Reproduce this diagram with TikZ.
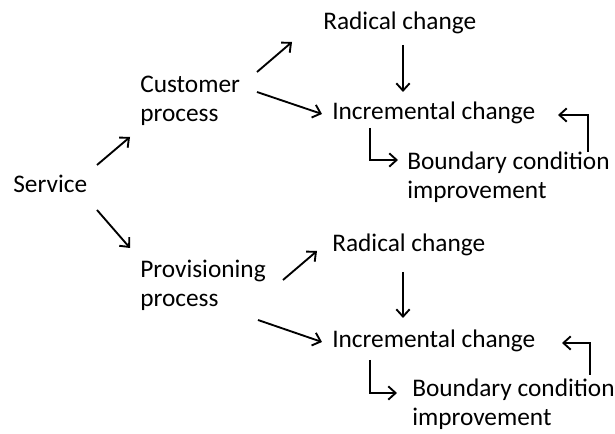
\documentclass[tikz,border=0pt]{standalone}
\usepackage{fontspec}
\setmainfont{Carlito}
\usetikzlibrary{arrows.meta}

\begin{document}
\begin{tikzpicture}[x=0.75pt,y=-0.75pt,
    txt/.style={anchor=base west,inner sep=0pt,align=left,
        font=\fontsize{19}{21.75}\selectfont},
    arr/.style={line width=1.4pt,-{Straight Barb[length=5.5pt,width=10pt,line width=1.4pt]}}]
    \useasboundingbox (0,0) rectangle (615,434);
    % labels (two-line labels sit on their last line)
    \node[txt] (service) at (13,193)  {Service};
    \node[txt] (cust)    at (140,122) {Customer\\process};
    \node[txt] (prov)    at (140,307) {Provisioning\\process};
    \node[txt] (radA)    at (323,30)  {Radical change};
    \node[txt] (incA)    at (332,120) {Incremental change};
    \node[txt] (bndA)    at (407,199) {Boundary condition\\improvement};
    \node[txt] (radB)    at (332,252) {Radical change};
    \node[txt] (incB)    at (332,348) {Incremental change};
    \node[txt] (bndB)    at (412,426) {Boundary condition\\improvement};
    % service to the two processes
    \draw[arr] ([shift={(84,-28)}]service.base west) -- ([shift={(-10,15)}]cust.base west);
    \draw[arr] ([shift={(84,17)}]service.base west) -- ([shift={(-10,-59)}]prov.base west);
    % customer branch
    \draw[arr] ([shift={(117,-50)}]cust.base west) -- ([shift={(-31,12)}]radA.base west);
    \draw[arr] ([shift={(117,-30)}]cust.base west) -- ([shift={(-10,-6)}]incA.base west);
    \draw[arr] ([shift={(80,15)}]radA.base west) -- ([shift={(71,-28)}]incA.base west);
    \draw[arr] ([shift={(38,8)}]incA.base west) |- ([shift={(-9,-39)}]bndA.base west);
    \draw[arr] ([shift={(181,-47)}]bndA.base west) |- ([shift={(226,-5)}]incA.base west);
    % provisioning branch
    \draw[arr] ([shift={(143,-27)}]prov.base west) -- ([shift={(-15,-1)}]radB.base west);
    \draw[arr] ([shift={(118,13)}]prov.base west) -- ([shift={(-10,-6)}]incB.base west);
    \draw[arr] ([shift={(71,20)}]radB.base west) -- ([shift={(71,-30)}]incB.base west);
    \draw[arr] ([shift={(38,12)}]incB.base west) |- ([shift={(-15,-33)}]bndB.base west);
    \draw[arr] ([shift={(178,-51)}]bndB.base west) |- ([shift={(230,-5)}]incB.base west);
\end{tikzpicture}
\end{document}
